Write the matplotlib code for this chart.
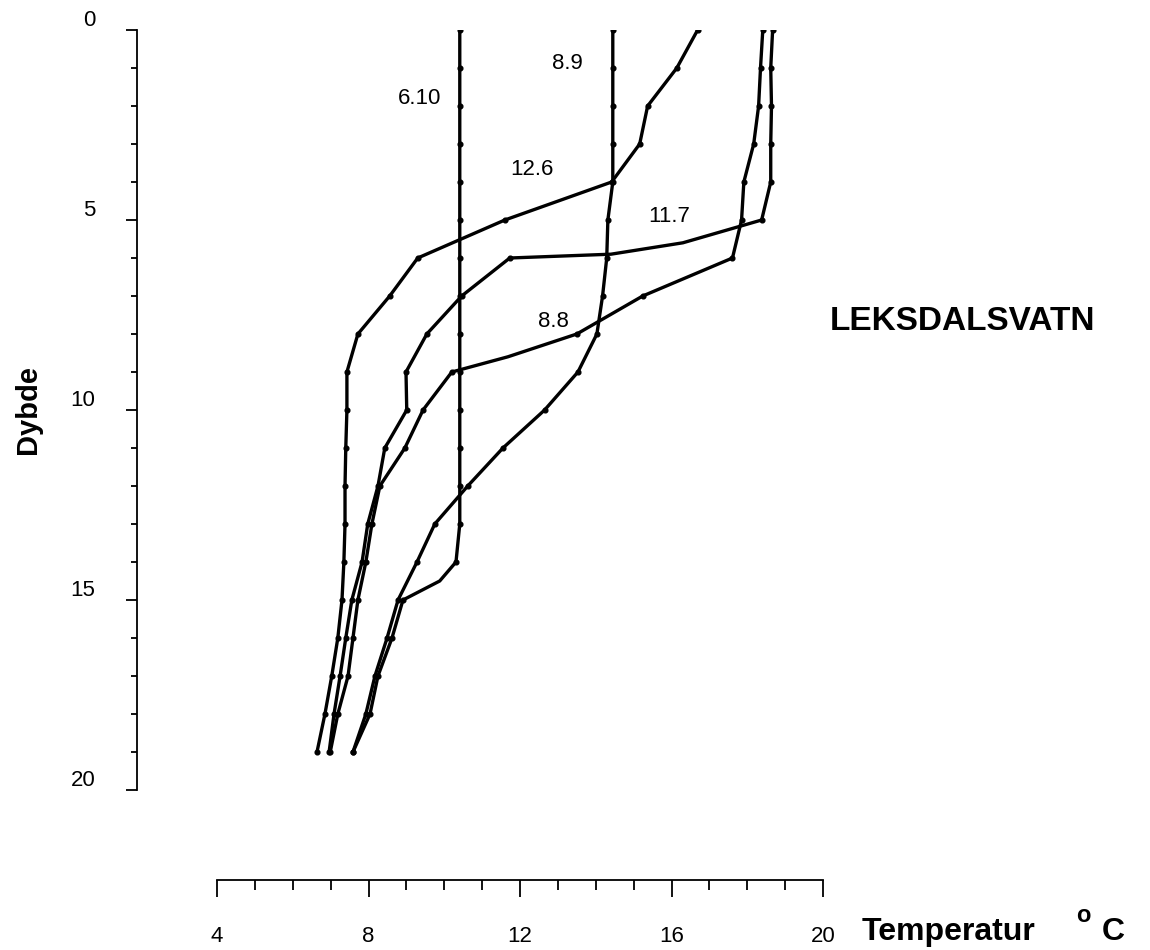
import matplotlib
matplotlib.use('Agg')
import matplotlib.pyplot as plt
import matplotlib.transforms as mtransforms

plt.rcParams['font.family'] = ['Liberation Sans', 'DejaVu Sans']

# Temperature profiles, Leksdalsvatn (depth in m, temperature in deg C)
depth = list(range(0, 20))

depth_6_10 = [0, 1, 2, 3, 4, 5, 6, 7, 8, 9, 10, 11, 12, 13, 14, 14.5, 15, 16, 17, 18, 19]
temp_6_10 = [10.41, 10.41, 10.41, 10.41, 10.41, 10.41, 10.41, 10.41, 10.41, 10.41,
             10.41, 10.41, 10.41, 10.41, 10.31, 9.88, 8.91, 8.62, 8.25, 8.04, 7.59]

temp_8_9 = [14.45, 14.45, 14.45, 14.45, 14.45, 14.32, 14.29, 14.18, 14.03, 13.53,
            12.65, 11.55, 10.62, 9.75, 9.28, 8.78, 8.49, 8.17, 7.93, 7.59]

temp_12_6 = [16.69, 16.14, 15.37, 15.16, 14.42, 11.60, 9.30, 8.56, 7.72, 7.43,
             7.43, 7.40, 7.38, 7.38, 7.35, 7.30, 7.19, 7.03, 6.85, 6.64]

depth_11_7 = [0, 1, 2, 3, 4, 5, 5.6, 5.9, 6, 7, 8, 9, 10, 11, 12, 13, 14, 15, 16, 17, 18, 19]
temp_11_7 = [18.67, 18.62, 18.64, 18.62, 18.62, 18.38, 16.30, 14.40, 11.73, 10.46, 9.54,
             8.99, 9.01, 8.43, 8.25, 7.98, 7.83, 7.56, 7.40, 7.25, 7.09, 6.96]

depth_8_8 = [0, 1, 2, 3, 4, 5, 6, 7, 8, 8.6, 9, 10, 11, 12, 13, 14, 15, 16, 17, 18, 19]
temp_8_8 = [18.41, 18.35, 18.30, 18.17, 17.91, 17.85, 17.61, 15.24, 13.50, 11.68, 10.20,
            9.44, 8.96, 8.30, 8.09, 7.93, 7.72, 7.59, 7.46, 7.19, 6.99]

labels = ['6.10', '8.9', '12.6', '11.7', '8.8']
label_x = [9.36, 13.26, 12.31, 15.95, 12.87]
label_y = [1.79, 0.87, 3.68, 4.92, 7.68]

fig = plt.figure(figsize=(11.5, 9.5), dpi=100)
ax = fig.add_axes([217 / 1150, 160 / 950, 606 / 1150, 760 / 950])

profiles = [(temp_6_10, depth_6_10), (temp_8_9, depth), (temp_12_6, depth),
            (temp_11_7, depth_11_7), (temp_8_8, depth_8_8)]

for temps, depths in profiles:
    # dots only on the whole-metre samples
    marks = [i for i, d in enumerate(depths) if d == int(d)]
    ax.plot(temps, depths, color='black', linewidth=2.4, marker='o', markersize=3.4,
            markevery=marks, solid_joinstyle='round', solid_capstyle='round')

for txt, x, y in zip(labels, label_x, label_y):
    ax.text(x, y, txt, fontsize=16, ha='center', va='center')

ax.set_xlim(4, 20)
ax.set_ylim(20, 0)

ax.spines['top'].set_visible(False)
ax.spines['right'].set_visible(False)
ax.spines['left'].set_position(('axes', -80 / 606))
ax.spines['bottom'].set_position(('axes', -90 / 760))
ax.spines['left'].set_linewidth(1.3)
ax.spines['bottom'].set_linewidth(1.3)

ax.set_xticks([4, 8, 12, 16, 20])
ax.set_xticks(range(4, 21), minor=True)
ax.set_yticks([0, 5, 10, 15, 20])
ax.set_yticks(range(0, 21), minor=True)

ax.tick_params(axis='x', which='major', direction='out', length=12, width=1.3,
               pad=21, labelsize=16)
ax.tick_params(axis='x', which='minor', direction='out', length=7, width=1.3)
ax.tick_params(axis='y', which='major', direction='out', length=8, width=1.3,
               pad=22, labelsize=16)
ax.tick_params(axis='y', which='minor', direction='out', length=4.5, width=1.3)

# y tick labels sit a little above their tick
offset = mtransforms.ScaledTranslation(0, 12 / 100, fig.dpi_scale_trans)
for lab in ax.get_yticklabels():
    lab.set_transform(lab.get_transform() + offset)

fig.text(28 / 1150, 1 - 410 / 950, 'Dybde', rotation=90, fontsize=21,
         fontweight='bold', ha='center', va='center')
fig.text(862 / 1150, 1 - 932 / 950, 'Temperatur', fontsize=23,
         fontweight='bold', ha='left', va='center')
fig.text(1083 / 1150, 1 - 915 / 950, 'o', fontsize=17,
         fontweight='bold', ha='center', va='center')
fig.text(1113 / 1150, 1 - 932 / 950, 'C', fontsize=23,
         fontweight='bold', ha='center', va='center')
fig.text(963 / 1150, 1 - 322 / 950, 'LEKSDALSVATN', fontsize=24,
         fontweight='bold', ha='center', va='center')

fig.savefig('out.png', dpi=100)
